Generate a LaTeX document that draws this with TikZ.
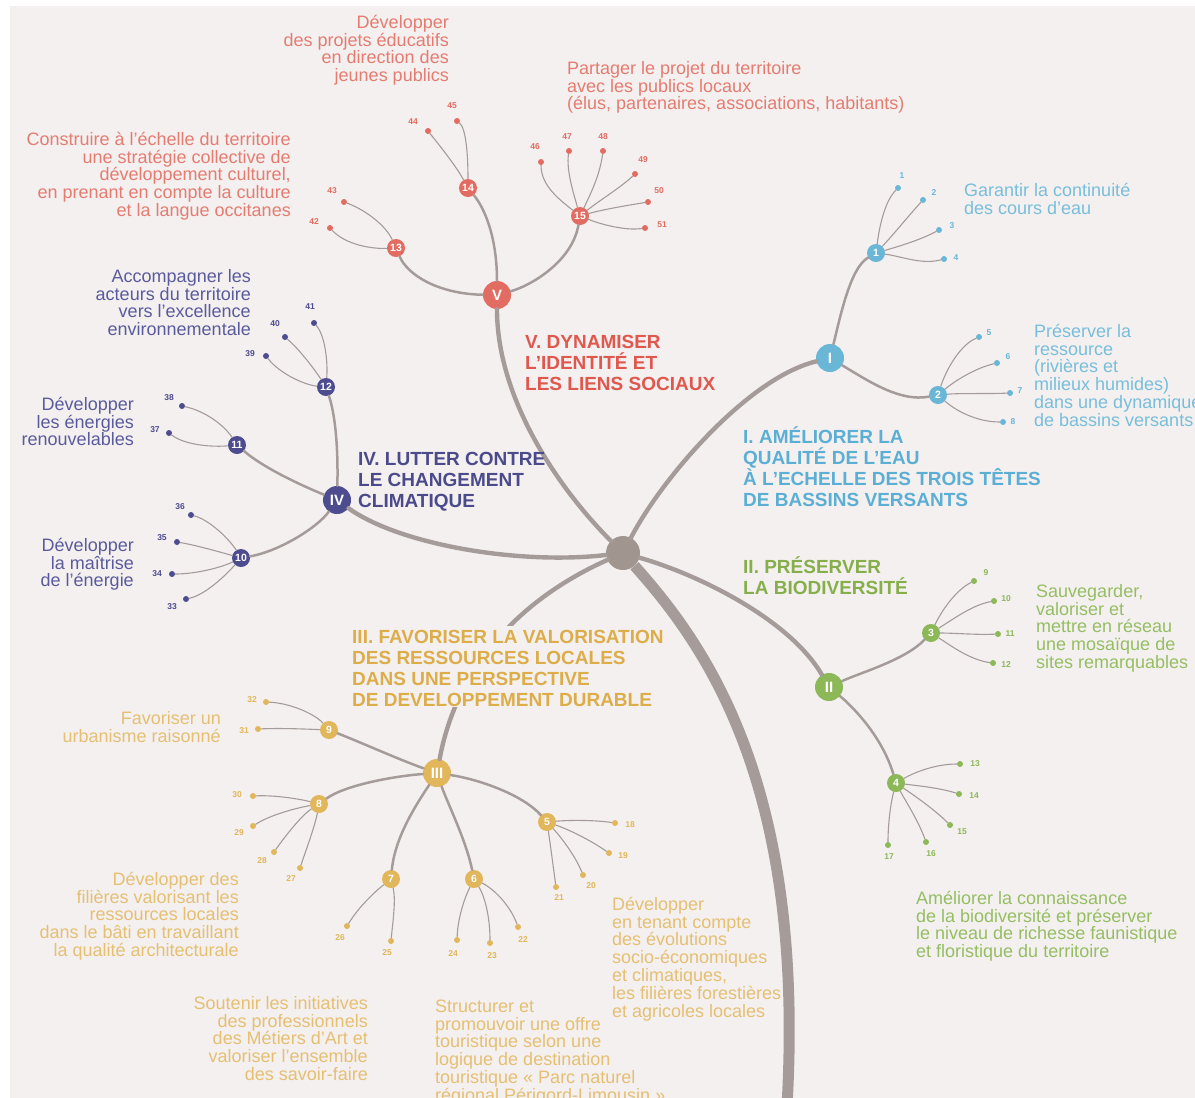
\documentclass[tikz,border=0pt]{standalone}
\usepackage{fontspec}
\setmainfont{Liberation Sans}
\definecolor{bgc}{HTML}{F4F0F0}
\definecolor{gline}{HTML}{A59C99}
\definecolor{hubc}{HTML}{A1968F}
\definecolor{cV}{HTML}{E26C61}
\definecolor{cVt}{HTML}{E47C71}
\definecolor{cVh}{HTML}{E0574D}
\definecolor{cI}{HTML}{69B6D6}
\definecolor{cIt}{HTML}{78BEDB}
\definecolor{cIh}{HTML}{5BAFD4}
\definecolor{cII}{HTML}{8CB857}
\definecolor{cIIt}{HTML}{95BE63}
\definecolor{cIIh}{HTML}{86AF4C}
\definecolor{cIII}{HTML}{E2B65A}
\definecolor{cIIIt}{HTML}{E5BF72}
\definecolor{cIIIh}{HTML}{DDAD4A}
\definecolor{cIV}{HTML}{4D4C8E}
\definecolor{cIVt}{HTML}{5A5B9C}
\definecolor{cIVh}{HTML}{4B4A8A}
\newcommand\mkleaf[7]{%
  \node[leafdot, fill=#3] (l#2) at (#4) {};
  \node[leaflab, text=#3] (t#2) at (#5) {#2};
  \draw[twig] (#1) .. controls (#6) and (#7) .. (l#2);}
\begin{document}
\begin{tikzpicture}[x=1pt,y=-1pt,
  gl/.style={draw=gline, line cap=round},
  branch/.style={gl, line width=4.4pt},
  sub/.style={gl, line width=2.5pt},
  twig/.style={gl, line width=1.1pt},
  roman/.style={circle, minimum size=28pt, inner sep=0pt, text=white, font={\fontsize{15}{15}\selectfont\bfseries}},
  num/.style={circle, minimum size=18pt, inner sep=0pt, text=white, font={\fontsize{10.5}{10.5}\selectfont\bfseries}},
  leafdot/.style={circle, minimum size=6pt, inner sep=0pt},
  leaflab/.style={inner sep=0pt, font={\fontsize{8.5}{8.5}\selectfont\bfseries}},
  obj/.style={inner sep=0pt, font={\fontsize{18}{17.8}\selectfont\lineskiplimit=-50pt}},
  objR/.style={obj, align=right, anchor=north east},
  objL/.style={obj, align=left, anchor=north west},
  ttl/.style={inner sep=0pt, align=left, anchor=north west, font={\fontsize{19}{21}\selectfont\bfseries\lineskiplimit=-50pt}},
]
\useasboundingbox (0,0) rectangle (1195,1098);
\clip (0,0) rectangle (1195,1098);
\fill[white] (0,0) rectangle (1195,1098);
\fill[bgc] (10,6) rectangle (1195,1098);

% hub and main nodes
\node[circle, fill=hubc, minimum size=34pt, inner sep=0pt] (hub) at (623,553) {};
\coordinate (trunkend) at (787,1106);
\node[roman, fill=cV] (rV) at (497,295) {V};
\node[roman, fill=cI] (rI) at (830,358) {I};
\node[roman, fill=cII] (rII) at (829,687) {II};
\node[roman, fill=cIII] (rIII) at (437,773) {III};
\node[roman, fill=cIV] (rIV) at (337,500) {IV};

% numbered nodes
\node[num, fill=cI] (n1) at (876,253) {1};
\node[num, fill=cI] (n2) at (938,395) {2};
\node[num, fill=cII] (n3) at (931,633) {3};
\node[num, fill=cII] (n4) at (896,783) {4};
\node[num, fill=cIII] (n5) at (547,822) {5};
\node[num, fill=cIII] (n6) at (474,879) {6};
\node[num, fill=cIII] (n7) at (391,879) {7};
\node[num, fill=cIII] (n8) at (319,804) {8};
\node[num, fill=cIII] (n9) at (329,730) {9};
\node[num, fill=cIV] (n10) at (241,558) {10};
\node[num, fill=cIV] (n11) at (237,445) {11};
\node[num, fill=cIV] (n12) at (326,387) {12};
\node[num, fill=cV] (n13) at (396,248) {13};
\node[num, fill=cV] (n14) at (468,188) {14};
\node[num, fill=cV] (n15) at (580,216) {15};

% trunk and main branches
\draw[gl, line width=11pt, line cap=butt] (hub) .. controls (710,650) and (805,790) .. (trunkend);
\draw[branch] (hub) .. controls (560,490) and (497,400) .. (rV);
\draw[branch] (hub) .. controls (662,478) and (748,378) .. (rI);
\draw[branch] (hub) .. controls (700,575) and (790,620) .. (rII);
\draw[branch] (hub) .. controls (540,590) and (460,650) .. (rIII);
\draw[branch] (hub) .. controls (520,565) and (400,545) .. (rIV);

% sub branches
\draw[sub] (rV) .. controls (440,294) and (408,276) .. (n13);
\draw[sub] (rV) .. controls (497,240) and (486,210) .. (n14);
\draw[sub] (rV) .. controls (530,286) and (572,262) .. (n15);
\draw[sub] (rI) .. controls (840,318) and (850,268) .. (n1);
\draw[sub] (rI) .. controls (870,382) and (900,402) .. (n2);
\draw[sub] (rII) .. controls (862,672) and (905,660) .. (n3);
\draw[sub] (rII) .. controls (852,706) and (882,736) .. (n4);
\draw[sub] (rIII) .. controls (400,760) and (360,742) .. (n9);
\draw[sub] (rIII) .. controls (395,776) and (345,785) .. (n8);
\draw[sub] (rIII) .. controls (418,802) and (395,836) .. (n7);
\draw[sub] (rIII) .. controls (447,802) and (466,840) .. (n6);
\draw[sub] (rIII) .. controls (477,779) and (522,794) .. (n5);
\draw[sub] (rIV) .. controls (318,527) and (280,551) .. (n10);
\draw[sub] (rIV) .. controls (310,489) and (266,470) .. (n11);
\draw[sub] (rIV) .. controls (338,460) and (337,420) .. (n12);

% leaves V
\mkleaf{n13}{42}{cV}{330,228}{314,222}{372,249}{346,245}
\mkleaf{n13}{43}{cV}{344,202}{332,191}{386,226}{366,210}
\mkleaf{n14}{44}{cV}{428,131}{413,122}{456,166}{440,146}
\mkleaf{n14}{45}{cV}{457,121}{452,106}{468,155}{466,128}
\mkleaf{n15}{46}{cV}{541,162}{535,147}{560,200}{541,186}
\mkleaf{n15}{47}{cV}{569,151}{567,137}{574,195}{566,170}
\mkleaf{n15}{48}{cV}{603,151}{603,137}{590,195}{600,175}
\mkleaf{n15}{49}{cV}{635,174}{643,160}{600,200}{620,188}
\mkleaf{n15}{50}{cV}{648,202}{659,191}{605,209}{630,205}
\mkleaf{n15}{51}{cV}{645,228}{662,225}{600,224}{625,231}
% leaves I
\mkleaf{n1}{1}{cI}{898,188}{902,176}{880,222}{886,200}
\mkleaf{n1}{2}{cI}{923,200}{934,193}{894,234}{910,214}
\mkleaf{n1}{3}{cI}{939,230}{952,226}{900,246}{920,240}
\mkleaf{n1}{4}{cI}{944,259}{956,258}{900,256}{922,265}
\mkleaf{n2}{5}{cI}{979,337}{989,333}{946,370}{960,345}
\mkleaf{n2}{6}{cI}{997,363}{1008,357}{956,380}{976,368}
\mkleaf{n2}{7}{cI}{1010,393}{1020,391}{962,393}{986,394}
\mkleaf{n2}{8}{cI}{1003,422}{1013,422}{955,410}{976,422}
% leaves II
\mkleaf{n3}{9}{cII}{974,581}{986,573}{942,610}{956,590}
\mkleaf{n3}{10}{cII}{994,601}{1006,599}{952,620}{972,605}
\mkleaf{n3}{11}{cII}{998,634}{1010,634}{955,633}{976,635}
\mkleaf{n3}{12}{cII}{993,663}{1006,665}{950,645}{970,660}
\mkleaf{n4}{13}{cII}{960,764}{975,764}{915,772}{936,764}
\mkleaf{n4}{14}{cII}{959,794}{974,796}{920,786}{940,788}
\mkleaf{n4}{15}{cII}{950,825}{962,832}{915,796}{935,810}
\mkleaf{n4}{16}{cII}{926,842}{931,854}{906,802}{918,820}
\mkleaf{n4}{17}{cII}{888,845}{889,857}{891,802}{888,822}
% leaves III
\mkleaf{n9}{32}{cIII}{266,702}{252,700}{315,714}{290,703}
\mkleaf{n9}{31}{cIII}{258,729}{244,731}{305,729}{280,728}
\mkleaf{n8}{30}{cIII}{253,796}{237,795}{300,799}{275,795}
\mkleaf{n8}{29}{cIII}{253,826}{239,833}{296,808}{270,815}
\mkleaf{n8}{28}{cIII}{274,852}{262,861}{302,815}{286,835}
\mkleaf{n8}{27}{cIII}{300,868}{291,879}{315,826}{306,850}
\mkleaf{n7}{26}{cIII}{347,926}{340,938}{377,890}{360,905}
\mkleaf{n7}{25}{cIII}{391,941}{387,953}{396,900}{393,920}
\mkleaf{n6}{24}{cIII}{457,940}{453,954}{466,895}{458,915}
\mkleaf{n6}{23}{cIII}{490,943}{492,956}{484,895}{490,915}
\mkleaf{n6}{22}{cIII}{518,927}{523,940}{494,889}{510,905}
\mkleaf{n5}{18}{cIII}{615,823}{630,825}{570,820}{595,820}
\mkleaf{n5}{19}{cIII}{609,853}{623,856}{570,830}{590,840}
\mkleaf{n5}{20}{cIII}{583,875}{591,886}{560,836}{575,855}
\mkleaf{n5}{21}{cIII}{556,887}{559,898}{550,842}{553,865}
% leaves IV
\mkleaf{n12}{39}{cIV}{266,356}{250,354}{305,385}{280,374}
\mkleaf{n12}{40}{cIV}{285,337}{275,324}{315,370}{300,350}
\mkleaf{n12}{41}{cIV}{314,323}{310,307}{328,362}{325,335}
\mkleaf{n11}{38}{cIV}{182,406}{169,398}{224,425}{205,411}
\mkleaf{n11}{37}{cIV}{169,433}{155,430}{215,447}{186,446}
\mkleaf{n10}{36}{cIV}{191,515}{180,507}{230,540}{210,520}
\mkleaf{n10}{35}{cIV}{177,542}{162,538}{220,552}{195,545}
\mkleaf{n10}{34}{cIV}{172,574}{157,574}{220,568}{195,574}
\mkleaf{n10}{33}{cIV}{186,599}{172,607}{225,576}{205,595}

% titles
\node[ttl, text=cVh] (hV) at (525,330.5) {\rule{0pt}{18pt}V. DYNAMISER\\L’IDENTITÉ ET\\LES LIENS SOCIAUX};
\node[ttl, text=cIVh] (hIV) at (358,447.5) {\rule{0pt}{18pt}IV. LUTTER CONTRE\\LE CHANGEMENT\\CLIMATIQUE};
\node[ttl, text=cIh] (hI) at (743,425.5) {\rule{0pt}{18pt}I. AMÉLIORER LA\\QUALITÉ DE L’EAU\\À L’ECHELLE DES TROIS TÊTES\\DE BASSINS VERSANTS};
\node[ttl, text=cIIh] (hII) at (743,555.5) {\rule{0pt}{18pt}II. PRÉSERVER\\LA BIODIVERSITÉ};
\node[ttl, text=cIIIh, fill=bgc] (hIII) at (352,625.5) {\rule{0pt}{18pt}III. FAVORISER LA VALORISATION\\DES RESSOURCES LOCALES\\DANS UNE PERSPECTIVE\\DE DEVELOPPEMENT DURABLE};

% objectives V
\node[objR, text=cVt] (oV14) at (449,11) {\rule{0pt}{17pt}Développer\\des projets éducatifs\\en direction des\\jeunes publics};
\node[objR, text=cVt] (oV13) at (291,128) {\rule{0pt}{17pt}Construire à l’échelle du territoire\\une stratégie collective de\\développement culturel,\\en prenant en compte la culture\\et la langue occitanes};
\node[objL, text=cVt] (oV15) at (567,57) {\rule{0pt}{17pt}Partager le projet du territoire\\avec les publics locaux\\(élus, partenaires, associations, habitants)};
% objectives IV
\node[objR, text=cIVt] (oIV12) at (251,265) {\rule{0pt}{17pt}Accompagner les\\acteurs du territoire\\vers l’excellence\\environnementale};
\node[objR, text=cIVt] (oIV11) at (134,393) {\rule{0pt}{17pt}Développer\\les énergies\\renouvelables};
\node[objR, text=cIVt] (oIV10) at (134,534) {\rule{0pt}{17pt}Développer\\la maîtrise\\de l’énergie};
% objectives I
\node[objL, text=cIt] (oI1) at (964,179) {\rule{0pt}{17pt}Garantir la continuité\\des cours d’eau};
\node[objL, text=cIt] (oI2) at (1034,320) {\rule{0pt}{17pt}Préserver la\\ressource\\(rivières et\\milieux humides)\\dans une dynamique\\de bassins versants};
% objectives II
\node[objL, text=cIIt] (oII3) at (1036,580) {\rule{0pt}{17pt}Sauvegarder,\\valoriser et\\mettre en réseau\\une mosaïque de\\sites remarquables};
\node[objL, text=cIIt] (oII4) at (916,887) {\rule{0pt}{17pt}Améliorer la connaissance\\de la biodiversité et préserver\\le niveau de richesse faunistique\\et floristique du territoire};
% objectives III
\node[objR, text=cIIIt] (oIII9) at (221,707) {\rule{0pt}{17pt}Favoriser un\\urbanisme raisonné};
\node[objR, text=cIIIt] (oIII8) at (239,868) {\rule{0pt}{17pt}Développer des\\filières valorisant les\\ressources locales\\dans le bâti en travaillant\\la qualité architecturale};
\node[objR, text=cIIIt] (oIII7) at (368,992) {\rule{0pt}{17pt}Soutenir les initiatives\\des professionnels\\des Métiers d’Art et\\valoriser l’ensemble\\des savoir-faire};
\node[objL, text=cIIIt] (oIII6) at (435,995) {\rule{0pt}{17pt}Structurer et\\promouvoir une offre\\touristique selon une\\logique de destination\\touristique « Parc naturel\\régional Périgord-Limousin »};
\node[objL, text=cIIIt] (oIII5) at (612,893) {\rule{0pt}{17pt}Développer\\en tenant compte\\des évolutions\\socio-économiques\\et climatiques,\\les filières forestières\\et agricoles locales};
\end{tikzpicture}
\end{document}
